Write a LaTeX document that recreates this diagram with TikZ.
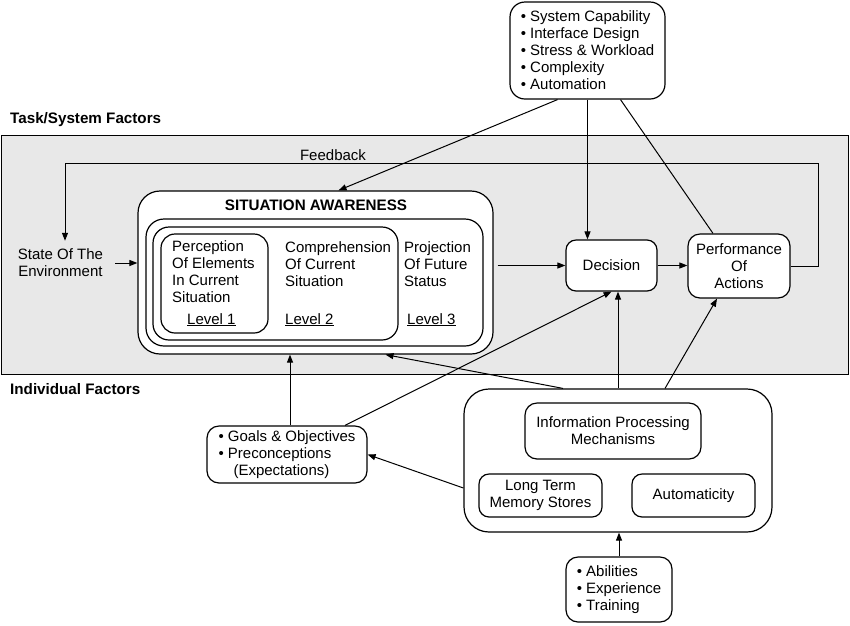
\documentclass[tikz,border=0pt]{standalone}
\usepackage{fontspec}
\setmainfont{Liberation Sans}
\usetikzlibrary{arrows.meta,calc}
\begin{document}
\begin{tikzpicture}[x=1pt,y=-1pt,
  font=\fontsize{15}{17}\selectfont,
  box/.style={draw, line width=1.2pt, fill=white, inner sep=0pt},
  txt/.style={inner sep=0pt, align=left},
  bf/.style={inner sep=0pt, font=\fontsize{15.2}{17}\selectfont\bfseries},
  ln/.style={line width=1pt},
  arr/.style={line width=1pt, -{Triangle[length=8pt,width=6pt]}}]
\useasboundingbox (0,0) rectangle (850,625);
\fill[white] (0,0) rectangle (850,625);

% task/system region
\node[draw, line width=1pt, fill=black!9, minimum width=847, minimum height=239, inner sep=0pt, anchor=north west] (task) at (1,135) {};
\node[bf, anchor=west] (tasklbl) at (10,120) {Task/System Factors};
\node[bf, anchor=west] (indlbl) at (10,389) {Individual Factors};

% top box
\node[box, rounded corners=15pt, minimum width=155, minimum height=97, align=left] (top) at (587.5,50.5)
  {• System Capability\\• Interface Design\\• Stress \& Workload\\• Complexity\\• Automation};

% situation awareness
\node[box, rounded corners=22pt, minimum width=355, minimum height=163] (sa) at (315.5,272.5) {};
\node[box, rounded corners=18pt, minimum width=337, minimum height=127] (l3) at (314.5,282.5) {};
\node[box, rounded corners=16pt, minimum width=245, minimum height=113] (l2) at (275.5,283.5) {};
\node[box, rounded corners=14pt, minimum width=107, minimum height=99] (l1) at (214.5,283.5) {};
\node[bf] (satitle) at (316,205) {SITUATION AWARENESS};
\node[txt, anchor=west] (perc) at (172,271.5) {Perception\\Of Elements\\In Current\\Situation};
\node[txt, anchor=west] (comp) at (285,264) {Comprehension\\Of Current\\Situation};
\node[txt, anchor=west] (proj) at (404,264) {Projection\\Of Future\\Status};
\node[txt, anchor=base west] (lev1) at (187,324) {\underline{Level 1}};
\node[txt, anchor=base west] (lev2) at (285,324) {\underline{Level 2}};
\node[txt, anchor=base west] (lev3) at (407,324) {\underline{Level 3}};

% state
\node[inner sep=0pt, align=center] (state) at (60.5,263) {State Of The\\Environment};

% decision / performance
\node[box, rounded corners=10pt, minimum width=91, minimum height=51] (dec) at (611.5,265.5) {Decision};
\node[box, rounded corners=12pt, minimum width=102, minimum height=64, align=center] (perf) at (739,266) {Performance\\Of\\Actions};

% feedback
\node[inner sep=0pt] (fbl) at (333,155) {Feedback};
\coordinate (fb1) at (818,163);
\coordinate (fbend) at ($(state.north)+(4.5,-8)$);

% individual factors
\node[box, rounded corners=12pt, minimum width=160, minimum height=57, align=left] (goals) at (287,454.5)
  {• Goals \& Objectives\\• Preconceptions\\\hspace*{15pt}(Expectations)};
\node[box, rounded corners=25pt, minimum width=308, minimum height=143] (info) at (618,460.5) {};
\node[box, rounded corners=12pt, minimum width=176, minimum height=56, align=center] (ipm) at (613,431) {Information Processing\\Mechanisms};
\node[box, rounded corners=10pt, minimum width=123, minimum height=43, align=center] (ltm) at (540.5,495.5) {Long Term\\Memory Stores};
\node[box, rounded corners=10pt, minimum width=123, minimum height=43] (auto) at (693.5,495.5) {Automaticity};
\node[box, rounded corners=12pt, minimum width=106, minimum height=65, align=left] (abil) at (619,589.5)
  {• Abilities\\• Experience\\• Training};

% connectors
\draw[arr] (perf.east) -| (fb1) -| (fbend);
\draw[arr, shorten <=12pt] (state.east) -- (state.east -| sa.west);
\draw[arr, shorten <=4pt] (sa.east |- dec.west) -- (dec.west);
\draw[arr] (dec.east) -- (dec.east -| perf.west);
\draw[arr] ($(top.south)+(-30,0)$) -- ($(sa.north)+(23,0)$);
\draw[arr] (top.south) -- (top.south |- dec.north);
\draw[ln] ($(top.south)+(33,0)$) -- ($(perf.north)+(-26,0)$);
\coordinate (g1) at ($(goals.north)+(3,0)$);
\draw[arr] (g1) -- (g1 |- sa.south);
\draw[arr] ($(goals.north)+(58,0)$) -- (dec.south);
\draw[arr] ($(info.north)+(-55,0)$) -- ($(sa.south)+(70,0)$);
\draw[arr] (info.north) -- (info.north |- dec.south);
\draw[arr] ($(info.north)+(47,0)$) -- ($(perf.south)+(-22,0)$);
\draw[arr] ($(info.west)+(0,27.5)$) -- (goals.east);
\draw[arr] (abil.north) -- (abil.north |- info.south);
\end{tikzpicture}
\end{document}
